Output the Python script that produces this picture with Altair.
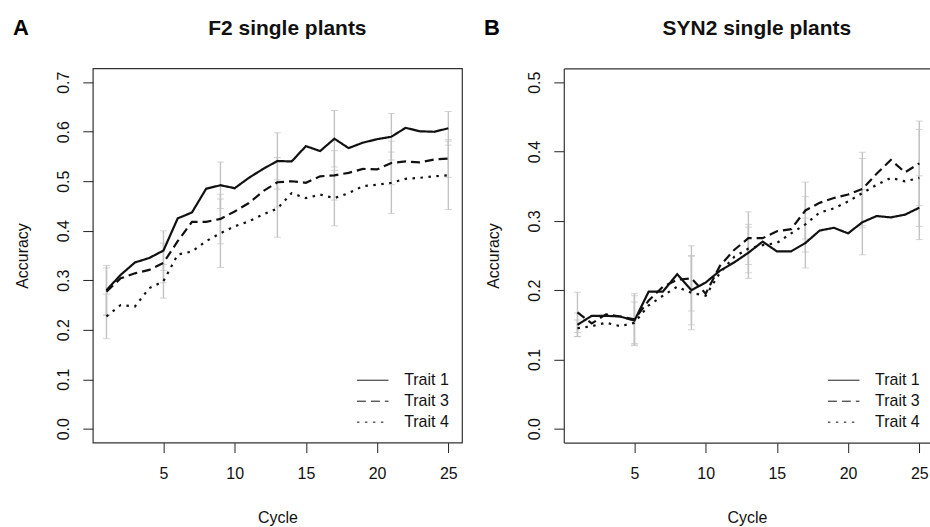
import altair as alt
import pandas as pd

FONT = "Liberation Sans"

cycles = list(range(1, 26))
traits = ["Trait 1", "Trait 3", "Trait 4"]

# Panel A: F2 single plants
f2_trait1 = [0.280, 0.311, 0.336, 0.345, 0.360, 0.425, 0.437, 0.485, 0.492, 0.486, 0.507, 0.525, 0.541,
             0.540, 0.571, 0.561, 0.586, 0.567, 0.578, 0.585, 0.590, 0.608, 0.601, 0.600, 0.607]
f2_trait3 = [0.277, 0.304, 0.314, 0.321, 0.335, 0.379, 0.418, 0.418, 0.424, 0.439, 0.456, 0.480, 0.498,
             0.500, 0.497, 0.510, 0.512, 0.517, 0.525, 0.524, 0.537, 0.540, 0.538, 0.544, 0.546]
f2_trait4 = [0.227, 0.250, 0.247, 0.284, 0.298, 0.352, 0.358, 0.379, 0.395, 0.409, 0.419, 0.433, 0.445,
             0.476, 0.466, 0.473, 0.466, 0.476, 0.490, 0.493, 0.497, 0.505, 0.507, 0.510, 0.512]

# Panel B: SYN2 single plants
syn_trait1 = [0.150, 0.163, 0.163, 0.162, 0.156, 0.198, 0.198, 0.223, 0.200, 0.211, 0.228, 0.240, 0.254,
              0.270, 0.256, 0.256, 0.268, 0.286, 0.290, 0.282, 0.298, 0.307, 0.305, 0.309, 0.319]
syn_trait3 = [0.168, 0.152, 0.165, 0.162, 0.158, 0.185, 0.205, 0.215, 0.217, 0.195, 0.235, 0.258, 0.275,
              0.275, 0.285, 0.288, 0.315, 0.326, 0.333, 0.338, 0.346, 0.368, 0.388, 0.370, 0.383]
syn_trait4 = [0.145, 0.148, 0.153, 0.148, 0.153, 0.178, 0.192, 0.205, 0.196, 0.192, 0.225, 0.248, 0.260,
              0.265, 0.268, 0.282, 0.295, 0.312, 0.318, 0.328, 0.340, 0.352, 0.362, 0.357, 0.362]

# error bars (mean +/- sd) at these cycles
bar_cycles = [1, 5, 9, 13, 17, 21, 25]
f2_sd_trait1 = [0.050, 0.040, 0.047, 0.057, 0.057, 0.047, 0.034]
f2_sd_trait3 = [0.048, 0.040, 0.050, 0.050, 0.050, 0.044, 0.038]
f2_sd_trait4 = [0.045, 0.034, 0.069, 0.058, 0.056, 0.062, 0.069]
syn_sd_trait1 = [0.017, 0.036, 0.050, 0.037, 0.036, 0.047, 0.046]
syn_sd_trait3 = [0.029, 0.037, 0.047, 0.038, 0.041, 0.053, 0.061]
syn_sd_trait4 = [0.012, 0.030, 0.053, 0.035, 0.040, 0.050, 0.070]

f2_yticks = [0.0, 0.1, 0.2, 0.3, 0.4, 0.5, 0.6, 0.7]
syn_yticks = [0.0, 0.1, 0.2, 0.3, 0.4, 0.5]
x_ticks = [5, 10, 15, 20, 25]

FRAME = "#333"


def panel(series, sds, ydomain, yticks, title, letter, width, xmax, open_right):
    rows = []
    for tr, vals in zip(traits, series):
        for c, v in zip(cycles, vals):
            rows.append({"cycle": c, "acc": v, "trait": tr})
    df = pd.DataFrame(rows)
    erows = []
    for tr, vals, sd in zip(traits, series, sds):
        for c, s in zip(bar_cycles, sd):
            m = vals[c - 1]
            erows.append({"cycle": c, "lo": m - s, "hi": m + s, "trait": tr})
    edf = pd.DataFrame(erows)

    xscale = alt.Scale(domain=[0.04, xmax], nice=False, zero=False)
    xaxis = alt.Axis(values=x_ticks, title="Cycle", grid=False, domain=open_right,
                     domainColor=FRAME, domainWidth=1.2,
                     tickSize=10, tickColor="#222", labelFontSize=16, labelColor="#111",
                     labelPadding=13, titleFontSize=16, titleFontWeight="normal",
                     titleColor="#111", titlePadding=28)
    yscale = alt.Scale(domain=ydomain, nice=False, zero=False)
    yaxis = alt.Axis(values=yticks, format=".1f", title="Accuracy", grid=False, domain=open_right,
                     domainColor=FRAME, domainWidth=1.2,
                     tickSize=10, tickColor="#222", labelAngle=-90, labelAlign="center",
                     labelBaseline="alphabetic", labelFontSize=16, labelColor="#111",
                     labelPadding=14, titleFontSize=16, titleFontWeight="normal",
                     titleColor="#111", titlePadding=25)

    bars = alt.Chart(edf).mark_errorbar(
        color="#c2c2c2", ticks={"size": 7, "color": "#c2c2c2"}, rule={"strokeWidth": 1.4}
    ).encode(
        x=alt.X("cycle:Q", scale=xscale, axis=xaxis),
        y=alt.Y("lo:Q", scale=yscale, axis=yaxis),
        y2="hi:Q",
        detail="trait:N",
    )

    if open_right:
        top_axis = alt.Axis(orient="top", labels=False, ticks=False, title=None, grid=False,
                            domain=True, domainColor=FRAME, domainWidth=1.2)
        line_x = alt.X("cycle:Q", axis=top_axis)
    else:
        line_x = alt.X("cycle:Q")

    lines = alt.Chart(df).mark_line(color="#111", strokeWidth=2.2, strokeCap="butt").encode(
        x=line_x,
        y=alt.Y("acc:Q"),
        strokeDash=alt.StrokeDash(
            "trait:N",
            scale=alt.Scale(domain=traits, range=[[1, 0], [9, 5], [2.5, 5.5]]),
            legend=alt.Legend(title=None, orient="none", legendX=264, legendY=302,
                              symbolType="stroke", symbolSize=1000, symbolStrokeWidth=1,
                              symbolStrokeColor="#111", labelFontSize=16, labelColor="#111",
                              labelOffset=15, padding=0, rowPadding=0, clipHeight=21),
        ),
    )

    lab = alt.Chart(pd.DataFrame({"t": [letter]})).mark_text(
        font=FONT, fontSize=22, fontWeight="bold", align="left", baseline="alphabetic", color="#000"
    ).encode(text="t:N", x=alt.value(-80), y=alt.value(-33))

    ttl = alt.Chart(pd.DataFrame({"t": [title]})).mark_text(
        font=FONT, fontSize=21, fontWeight="bold", align="center", baseline="alphabetic", color="#111"
    ).encode(text="t:N", x=alt.value(width / 2 + 10), y=alt.value(-33))

    layer = alt.layer(bars, lines, lab, ttl)
    if open_right:
        layer = layer.resolve_axis(x="independent").properties(
            width=width, height=375, view=alt.ViewBackground(stroke=None))
    else:
        layer = layer.properties(width=width, height=375,
                                 view=alt.ViewBackground(stroke=FRAME, strokeWidth=1.2))
    return layer


pa = panel([f2_trait1, f2_trait3, f2_trait4], [f2_sd_trait1, f2_sd_trait3, f2_sd_trait4],
           [-0.028, 0.728], f2_yticks, "F2 single plants", "A", 370, 25.96, False)
pb = panel([syn_trait1, syn_trait3, syn_trait4], [syn_sd_trait1, syn_sd_trait3, syn_sd_trait4],
           [-0.02, 0.52], syn_yticks, "SYN2 single plants", "B", 367, 25.75, True)

chart = alt.hconcat(pa, pb, spacing=21).resolve_scale(
    strokeDash="independent", y="independent", x="independent"
).properties(
    padding={"left": 12, "top": 16, "right": 0, "bottom": 0}
).configure(font=FONT).configure_concat(spacing=21)

chart.save("out.html", embed_options={"renderer": "svg", "actions": False})
